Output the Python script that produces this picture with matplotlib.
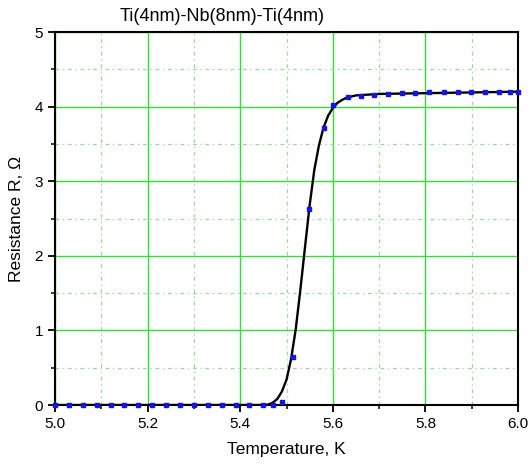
import matplotlib
matplotlib.use("Agg")
import matplotlib.pyplot as plt
from matplotlib.ticker import MultipleLocator

plt.rcParams['font.family'] = ['Liberation Sans', 'DejaVu Sans']

# Messpunkte (blaue Quadrate)
temp_pts = [5.00, 5.03, 5.06, 5.09, 5.12, 5.15, 5.18, 5.21, 5.24, 5.27, 5.30,
            5.33, 5.36, 5.39, 5.42, 5.45, 5.47, 5.49, 5.514, 5.549, 5.581,
            5.600, 5.633, 5.661, 5.689, 5.719, 5.749, 5.778, 5.808, 5.840,
            5.870, 5.898, 5.929, 5.959, 5.983, 6.00]
res_pts = [0, 0, 0, 0, 0, 0, 0, 0, 0, 0, 0,
           0, 0, 0, 0, 0, 0, 0.04, 0.64, 2.63, 3.71,
           4.02, 4.13, 4.14, 4.16, 4.17, 4.18, 4.18, 4.19, 4.19,
           4.19, 4.19, 4.19, 4.20, 4.20, 4.20]

# Fit-Kurve (schwarz)
temp_fit = [5.00, 5.45, 5.46, 5.47, 5.48, 5.49, 5.50, 5.51, 5.52, 5.53, 5.54,
            5.55, 5.56, 5.57, 5.58, 5.59, 5.60, 5.61, 5.62, 5.63, 5.65, 5.70,
            5.80, 5.90, 6.00]
res_fit = [0, 0, 0.005, 0.03, 0.08, 0.18, 0.34, 0.62, 1.02, 1.55, 2.12,
           2.68, 3.15, 3.48, 3.72, 3.88, 3.98, 4.05, 4.09, 4.12, 4.15, 4.17,
           4.18, 4.19, 4.20]

fig = plt.figure(figsize=(5.3, 4.66), dpi=100)
ax = fig.add_axes([0.1038, 0.1309, 0.8736, 0.8004])

ax.plot(temp_fit, res_fit, color='black', lw=1.7, zorder=3)
ax.plot(temp_pts, res_pts, 's', color='#1515e0', markersize=2.4, zorder=4,
        clip_on=False)

ax.set_xlim(5.0, 6.0)
ax.set_ylim(0, 5)
ax.xaxis.set_major_locator(MultipleLocator(0.2))
ax.xaxis.set_minor_locator(MultipleLocator(0.1))
ax.yaxis.set_major_locator(MultipleLocator(1))
ax.yaxis.set_minor_locator(MultipleLocator(0.5))
ax.xaxis.set_major_formatter(matplotlib.ticker.FormatStrFormatter('%.1f'))

# Gitter
ax.grid(which='major', color='#33dd33', lw=1.0, ls='-')
ax.grid(which='minor', color='#9ad99a', lw=0.9, ls=(0, (3, 3, 1, 3)))
ax.set_axisbelow(True)

for s in ax.spines.values():
    s.set_linewidth(1.5)
ax.tick_params(which='major', direction='out', length=5, width=1.3,
               labelsize=11, top=False, right=False)
ax.tick_params(which='minor', direction='out', length=3, width=1.1,
               top=False, right=False)

ax.set_xlabel('Temperature, K', fontsize=12.5, labelpad=8)
ax.set_ylabel('Resistance R, Ω', fontsize=12.5, labelpad=8)
fig.text(0.419, 0.965, 'Ti(4nm)-Nb(8nm)-Ti(4nm)', fontsize=13,
         ha='center', va='center')

fig.savefig('out.png', dpi=100)
